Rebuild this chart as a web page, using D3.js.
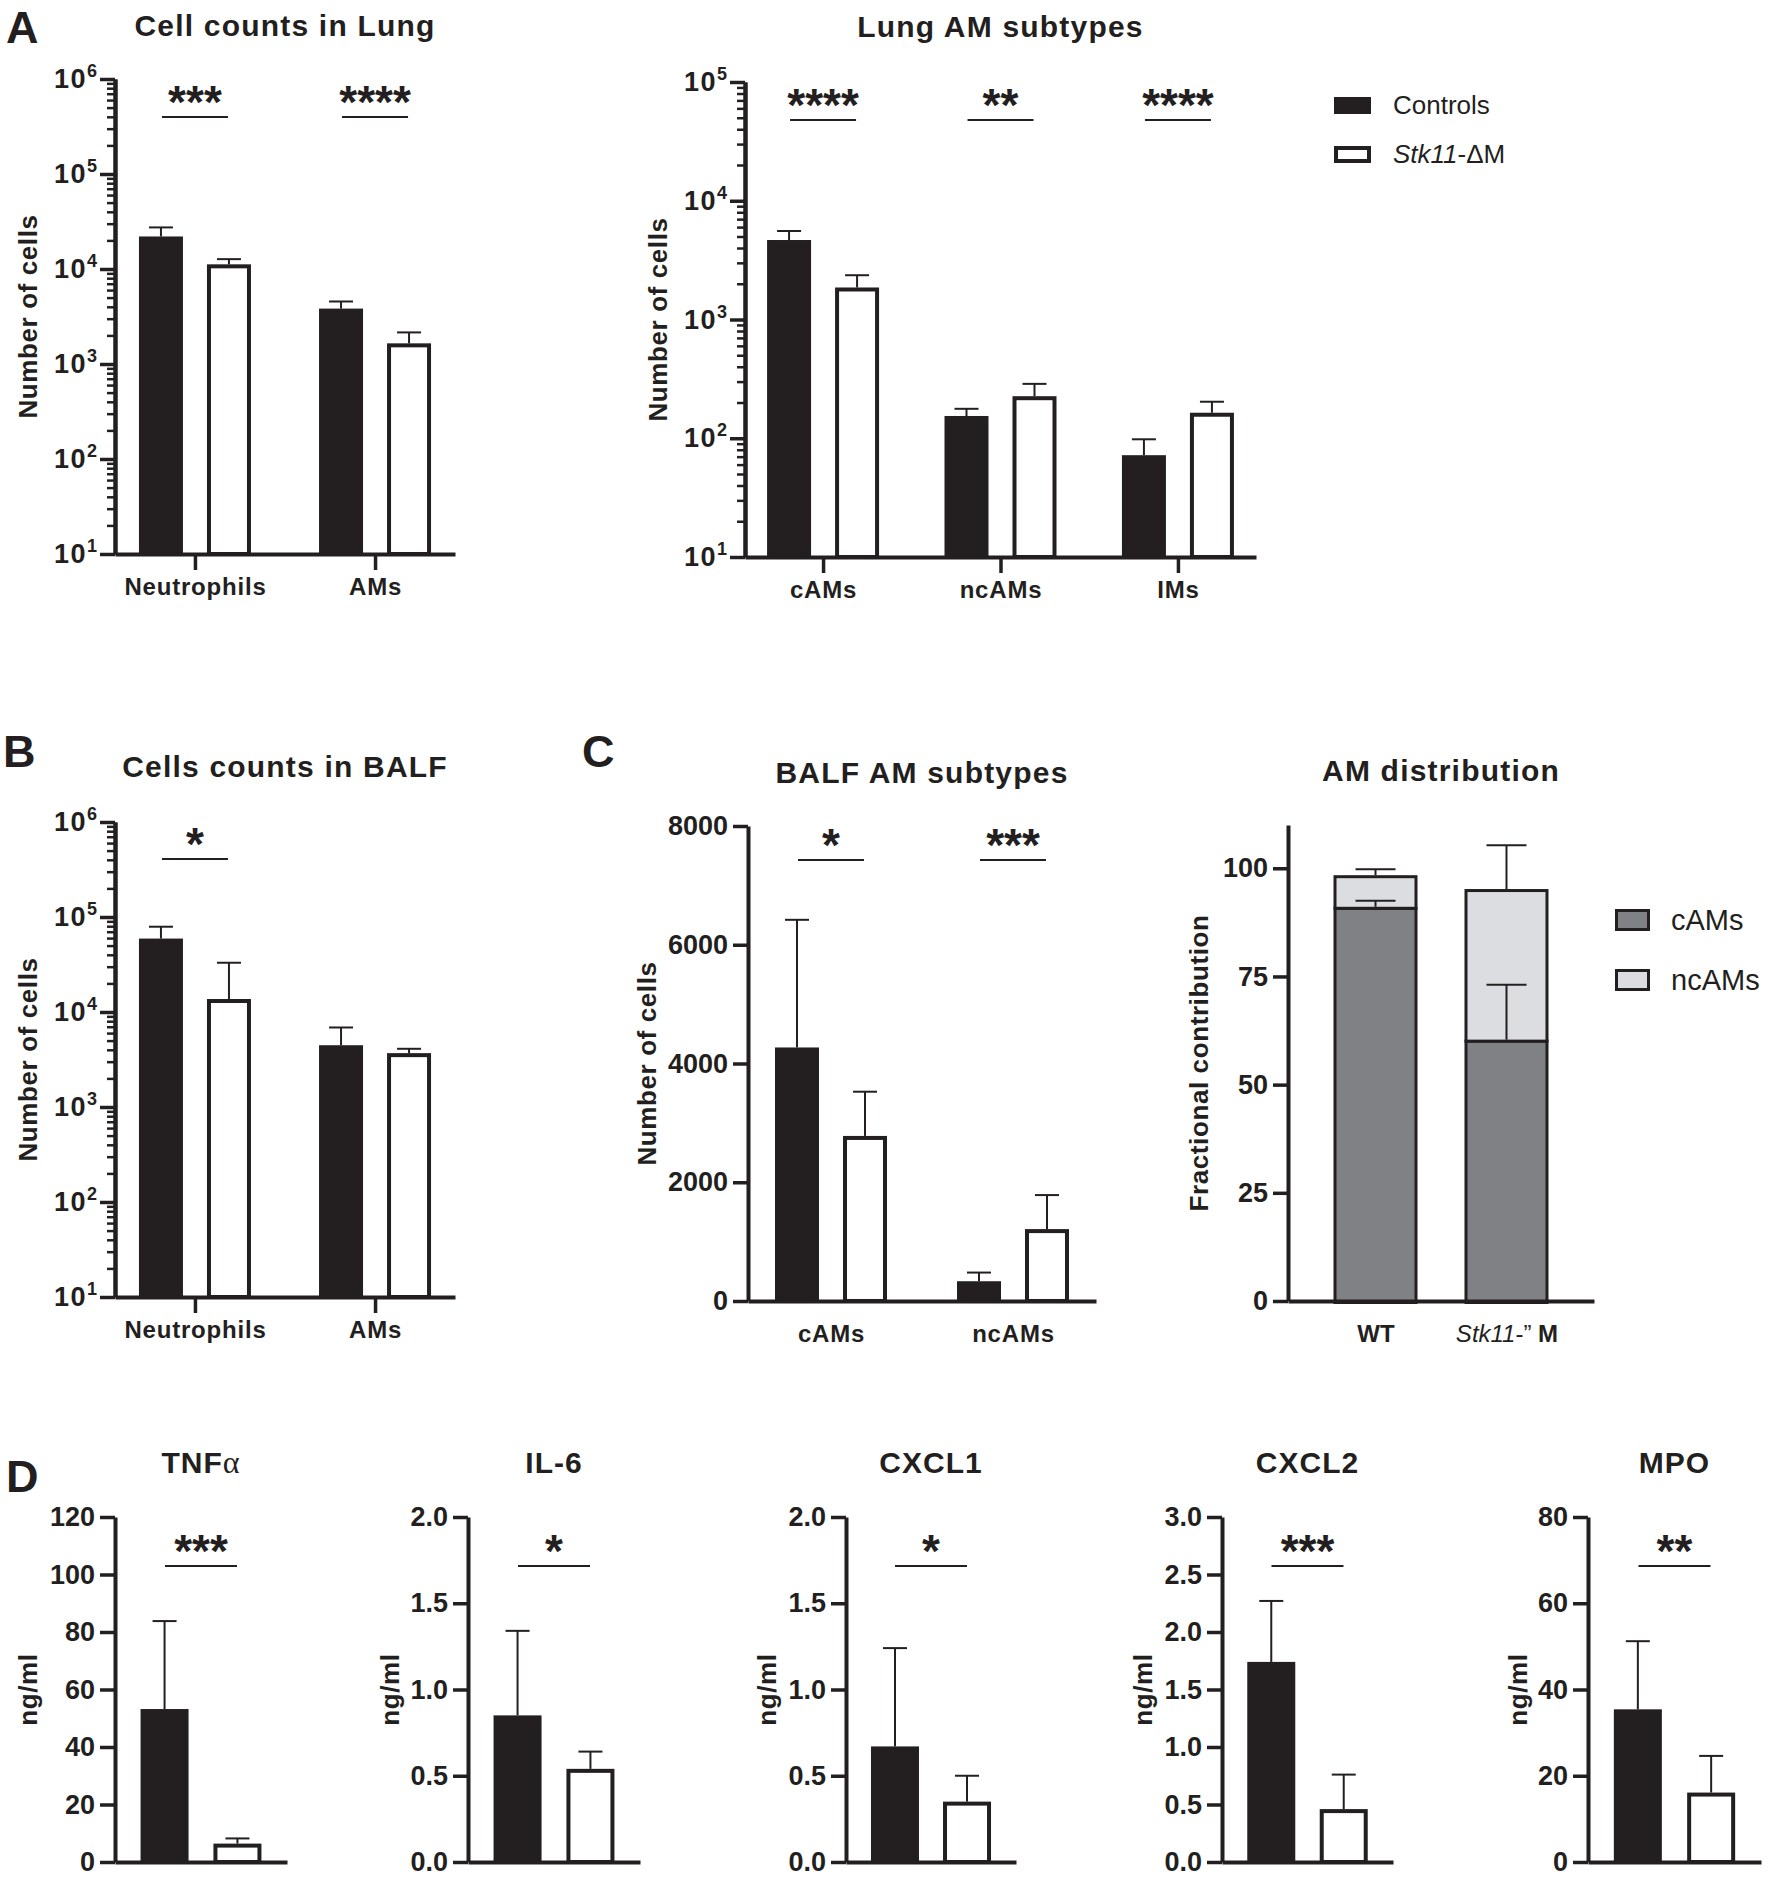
<!DOCTYPE html>
<meta charset="utf-8">
<style>
    body {margin: 0; background: #fff; font-family: "Liberation Sans", Arial, sans-serif;}
</style>
<svg width="1776" height="1878"></svg>
<script src="https://d3js.org/d3.v7.min.js"></script>
<script>
  /**
   * ----------------------------------------------------------------------------------------------
   * data (mean and SD)
   * ----------------------------------------------------------------------------------------------
   */
  const groups = ["Controls", "Stk11-ΔM"];

  // A - cell counts in lung
  const lungCats   = ["Neutrophils", "AMs"];
  const lungCtrl   = [22000, 3830];
  const lungCtrlSd = [5400, 720];
  const lungStk    = [11200, 1650];
  const lungStkSd  = [1500, 500];
  const lungSig    = ["***", "****"];

  // A - lung AM subtypes
  const amCats   = ["cAMs", "ncAMs", "IMs"];
  const amCtrl   = [4670, 154, 72];
  const amCtrlSd = [890, 23, 26];
  const amStk    = [1860, 226, 164];
  const amStkSd  = [500, 61, 39];
  const amSig    = ["****", "**", "****"];

  // B - cells counts in BALF
  const balfCats   = ["Neutrophils", "AMs"];
  const balfCtrl   = [59300, 4470];
  const balfCtrlSd = [19700, 2400];
  const balfStk    = [13700, 3690];
  const balfStkSd  = [19300, 410];
  const balfSig    = ["*", ""];

  // C - BALF AM subtypes
  const subCats   = ["cAMs", "ncAMs"];
  const subCtrl   = [4270, 333];
  const subCtrlSd = [2150, 146];
  const subStk    = [2780, 1211];
  const subStkSd  = [745, 573];
  const subSig    = ["*", "***"];
  const subTicks  = [0, 2000, 4000, 6000, 8000];

  // C - AM distribution (stacked %)
  const distCats  = ["WT", "Stk11"];
  const distKeys  = ["cAMs", "ncAMs"];
  const distCam   = [91.1, 60.4];
  const distCamSd = [1.4, 12.7];
  const distNcam  = [7.3, 34.8];
  const distNcamSd = [1.4, 10.1];
  const distTicks = [0, 25, 50, 75, 100];

  // D - cytokines
  const cytoNames  = ["TNFα", "IL-6", "CXCL1", "CXCL2", "MPO"];
  const cytoCtrl   = [53.2, 0.85, 0.67, 1.74, 35.4];
  const cytoCtrlSd = [30.6, 0.49, 0.57, 0.53, 15.8];
  const cytoStk    = [6.4, 0.54, 0.35, 0.46, 16.1];
  const cytoStkSd  = [1.8, 0.10, 0.15, 0.30, 8.5];
  const cytoMax    = [120, 2, 2, 3, 80];
  const cytoStep   = [20, 0.5, 0.5, 0.5, 20];
  const cytoFmt    = ["d", ".1f", ".1f", ".1f", "d"];
  const cytoSig    = ["***", "*", "*", "***", "**"];

  /**
   *-----------------------------------------------------------------------------------------------
   * helpers
   *-----------------------------------------------------------------------------------------------
   **/
  const ink = "#231f20";
  const camGrey = "#808185";
  const ncamGrey = "#dcdde0";
  const svg = d3.select("svg");

  function styleAxis(g, fs) {
    g.attr("font-family", null).attr("font-size", null).attr("color", ink);
    g.select(".domain").attr("stroke-width", 4);
    g.selectAll(".tick line").attr("stroke-width", 3.5);
    g.selectAll(".tick text").attr("font-size", fs || 27).attr("font-weight", "bold");
  }

  function yAxisLinear(g, y, x0, ticks, fmt) {
    g.append("g").attr("transform", "translate(" + x0 + ",0)")
      .call(d3.axisLeft(y).tickValues(ticks).tickSize(15).tickSizeOuter(0).tickPadding(5)
        .tickFormat(d3.format(fmt || "d")))
      .call(styleAxis);
  }

  function yAxisLog(g, y, x0) {
    var dom = y.domain();
    var majors = d3.range(Math.log10(dom[0]), Math.log10(dom[1]) + 1).map(e => Math.pow(10, e));
    var minors = [];
    majors.slice(0, -1).forEach(m => d3.range(2, 10).forEach(k => minors.push(m * k)));
    g.append("g").attr("transform", "translate(" + x0 + ",0)")
      .call(d3.axisLeft(y).tickValues(minors).tickSize(8).tickSizeOuter(0).tickFormat(""))
      .call(styleAxis)
      .selectAll(".tick line").attr("stroke-width", 2.5);
    var major = g.append("g").attr("transform", "translate(" + x0 + ",0)")
      .call(d3.axisLeft(y).tickValues(majors).tickSize(15).tickSizeOuter(0).tickPadding(3))
      .call(styleAxis);
    major.selectAll(".tick text").text("").each(function(d) {
      var t = d3.select(this);
      t.append("tspan").attr("font-size", 27).attr("letter-spacing", 1.5).text("10");
      t.append("tspan").attr("dy", -11).attr("font-size", 18).text(Math.round(Math.log10(d)));
    });
  }

  function title(g, x, y, txt) {
    g.append("text").attr("x", x).attr("y", y).attr("text-anchor", "middle")
      .attr("font-size", 30).attr("font-weight", "bold").attr("letter-spacing", 1.2)
      .attr("fill", ink).text(txt);
  }

  function yLabel(g, x, yMid, txt) {
    g.append("text").attr("transform", "translate(" + x + "," + yMid + ") rotate(-90)")
      .attr("text-anchor", "middle").attr("dy", "0.35em")
      .attr("font-size", 26).attr("font-weight", "bold").attr("letter-spacing", 0.6)
      .attr("fill", ink).text(txt);
  }

  function sigMark(g, cx, y, half, s) {
    g.append("line").attr("x1", cx - half).attr("x2", cx + half).attr("y1", y).attr("y2", y)
      .attr("stroke", ink).attr("stroke-width", 2);
    g.append("text").attr("x", cx).attr("y", y + 1).attr("text-anchor", "middle")
      .attr("font-size", 46).attr("font-weight", "bold").attr("fill", ink).text(s);
  }

  function errBar(g, cx, yFrom, yTo, half) {
    g.append("line").attr("x1", cx).attr("x2", cx).attr("y1", yFrom).attr("y2", yTo)
      .attr("stroke", ink).attr("stroke-width", 2);
    g.append("line").attr("x1", cx - half).attr("x2", cx + half).attr("y1", yTo).attr("y2", yTo)
      .attr("stroke", ink).attr("stroke-width", 2);
  }

  /**
   * ----------------------------------------------------------------------------------------------
   * grouped bars (panels A, B, C left)
   * ----------------------------------------------------------------------------------------------
   */
  function groupedPanel(p) {
    var g = svg.append("g");
    var x = d3.scalePoint().domain(p.cats).range([p.x0, p.x1]).padding(p.pad);
    var xi = d3.scaleBand().domain(groups).range([-56, 56]).paddingInner(0.353);
    var y = p.log
      ? d3.scaleLog().domain([10, p.max]).range([p.yBot, p.yTop])
      : d3.scaleLinear().domain([0, p.max]).range([p.yBot, p.yTop]);

    var rows = p.cats.flatMap((c, i) => [
      {cat: c, grp: groups[0], v: p.ctrl[i], sd: p.ctrlSd[i]},
      {cat: c, grp: groups[1], v: p.stk[i], sd: p.stkSd[i]}
    ]);

    rows.forEach(d => {
      var cx = x(d.cat) + xi(d.grp) + xi.bandwidth() / 2;
      errBar(g, cx, y(d.v), y(d.v + d.sd), 12);
    });

    g.selectAll("rect.bar").data(rows).join("rect").attr("class", "bar")
      .attr("x", d => x(d.cat) + xi(d.grp) + 2)
      .attr("width", xi.bandwidth() - 4)
      .attr("y", d => y(d.v) + 2)
      .attr("height", d => p.yBot - y(d.v) - 2)
      .attr("fill", d => d.grp === groups[0] ? ink : "#fff")
      .attr("stroke", ink).attr("stroke-width", 4);

    if (p.log) yAxisLog(g, y, p.x0);
    else yAxisLinear(g, y, p.x0, p.ticks);

    g.append("g").attr("transform", "translate(0," + p.yBot + ")")
      .call(d3.axisBottom(x).tickSize(p.catTicks ? 16 : 0).tickSizeOuter(0).tickPadding(p.catTicks ? 8 : 24))
      .call(styleAxis, 24)
      .selectAll(".tick text").attr("letter-spacing", 0.8);

    p.cats.forEach((c, i) => { if (p.sig[i]) sigMark(g, x(c), p.sigY, 33, p.sig[i]); });

    title(g, (p.x0 + p.x1) / 2, p.titleY, p.title);
    yLabel(g, p.ylabelX, (p.yTop + p.yBot) / 2, "Number of cells");
  }

  /**
   * ----------------------------------------------------------------------------------------------
   * stacked bars (panel C right)
   * ----------------------------------------------------------------------------------------------
   */
  function stackPanel() {
    var p = {x0: 1288, x1: 1594, yTop: 825, yBot: 1301};
    var g = svg.append("g");
    var x = d3.scalePoint().domain(distCats).range([p.x0, p.x1]).padding(0.668);
    var y = d3.scaleLinear().domain([0, 110]).range([p.yBot, p.yTop]);
    var colour = d3.scaleOrdinal().domain(distKeys).range([camGrey, ncamGrey]);
    var table = distCats.map((c, i) => ({cat: c, cAMs: distCam[i], ncAMs: distNcam[i],
      sd: {cAMs: distCamSd[i], ncAMs: distNcamSd[i]}}));
    var series = d3.stack().keys(distKeys)(table);
    var bw = 84;

    series.forEach(s => {
      s.forEach(d => {
        errBar(g, x(d.data.cat), y(d[1]), y(d[1] + d.data.sd[s.key]), 20);
      });
    });
    series.forEach(s => {
      g.selectAll(null).data(s).join("rect")
        .attr("x", d => x(d.data.cat) - bw / 2 + 1.5)
        .attr("width", bw - 3)
        .attr("y", d => y(d[1]) + 1.5)
        .attr("height", d => y(d[0]) - y(d[1]))
        .attr("fill", colour(s.key))
        .attr("stroke", ink).attr("stroke-width", 3);
    });
    // cAMs error bars sit inside the light segment, draw them again on top
    series[0].forEach(d => errBar(g, x(d.data.cat), y(d[1]), y(d[1] + d.data.sd.cAMs), 20));

    yAxisLinear(g, y, p.x0, distTicks);
    var xa = g.append("g").attr("transform", "translate(0," + p.yBot + ")")
      .call(d3.axisBottom(x).tickSize(0).tickSizeOuter(0).tickPadding(24))
      .call(styleAxis, 24);
    xa.selectAll(".tick text").filter(d => d === "Stk11").text("").each(function() {
      var t = d3.select(this);
      t.append("tspan").attr("font-style", "italic").attr("font-weight", "normal").text("Stk11");
      t.append("tspan").attr("font-weight", "normal").text("-”");
      t.append("tspan").text(" M");
    });

    title(g, (p.x0 + p.x1) / 2, 781, "AM distribution");
    yLabel(g, 1199, (p.yTop + p.yBot) / 2, "Fractional contribution");

    // legend
    var leg = g.selectAll("g.leg").data(distKeys).join("g")
      .attr("transform", (d, i) => "translate(1615," + (909 + i * 60) + ")");
    leg.append("rect").attr("x", 1.5).attr("y", 1.5).attr("width", 32).attr("height", 19)
      .attr("fill", d => colour(d)).attr("stroke", ink).attr("stroke-width", 3);
    leg.append("text").attr("x", 56).attr("y", 11).attr("dy", "0.36em")
      .attr("font-size", 29).attr("fill", ink).text(d => d);
  }

  /**
   * ----------------------------------------------------------------------------------------------
   * two-bar panels (D)
   * ----------------------------------------------------------------------------------------------
   */
  const dX0 = [115, 468, 846, 1222, 1588];
  const dX1 = [287, 640, 1016, 1393, 1761];
  const dLabX = [28, 390, 767, 1143, 1518];

  function cytoPanel(i) {
    var p = {x0: dX0[i], x1: dX1[i], yTop: 1517, yBot: 1862};
    var g = svg.append("g");
    var x = d3.scalePoint().domain(groups).range([p.x0, p.x1]).padding(0.68);
    var y = d3.scaleLinear().domain([0, cytoMax[i]]).range([p.yBot, p.yTop]);
    var rows = [
      {grp: groups[0], v: cytoCtrl[i], sd: cytoCtrlSd[i]},
      {grp: groups[1], v: cytoStk[i], sd: cytoStkSd[i]}
    ];
    var bw = 48;
    rows.forEach(d => errBar(g, x(d.grp), y(d.v), y(d.v + d.sd), 12));
    g.selectAll(null).data(rows).join("rect")
      .attr("x", d => x(d.grp) - bw / 2 + 2)
      .attr("width", bw - 4)
      .attr("y", d => y(d.v) + 2)
      .attr("height", d => p.yBot - y(d.v) - 2)
      .attr("fill", d => d.grp === groups[0] ? ink : "#fff")
      .attr("stroke", ink).attr("stroke-width", 4);

    yAxisLinear(g, y, p.x0, d3.range(0, cytoMax[i] + cytoStep[i] / 2, cytoStep[i]), cytoFmt[i]);
    g.append("g").attr("transform", "translate(0," + p.yBot + ")")
      .call(d3.axisBottom(x).tickSize(0).tickSizeOuter(0).tickFormat(""))
      .call(styleAxis);

    sigMark(g, (x(groups[0]) + x(groups[1])) / 2, 1566, 36, cytoSig[i]);

    var t = g.append("text").attr("x", (p.x0 + p.x1) / 2).attr("y", 1473).attr("text-anchor", "middle")
      .attr("font-size", 30).attr("font-weight", "bold").attr("letter-spacing", 1).attr("fill", ink);
    if (cytoNames[i] === "TNFα") {
      t.append("tspan").text("TNF");
      t.append("tspan").attr("font-family", "Liberation Serif, serif").attr("font-weight", "normal")
        .attr("font-size", 32).text("α");
    } else {
      t.text(cytoNames[i]);
    }
    yLabel(g, dLabX[i], (p.yTop + p.yBot) / 2, "ng/ml");
  }

  /**
   * ----------------------------------------------------------------------------------------------
   * run
   * ----------------------------------------------------------------------------------------------
   */
  groupedPanel({cats: lungCats, ctrl: lungCtrl, ctrlSd: lungCtrlSd, stk: lungStk, stkSd: lungStkSd,
    sig: lungSig, log: true, max: 1e6, x0: 115, x1: 455, yTop: 79, yBot: 554, pad: 0.444,
    catTicks: true, sigY: 117, title: "Cell counts in Lung", titleY: 36, ylabelX: 28});

  groupedPanel({cats: amCats, ctrl: amCtrl, ctrlSd: amCtrlSd, stk: amStk, stkSd: amStkSd,
    sig: amSig, log: true, max: 1e5, x0: 745, x1: 1256, yTop: 82, yBot: 557, pad: 0.44,
    catTicks: true, sigY: 120, title: "Lung AM subtypes", titleY: 37, ylabelX: 658});

  groupedPanel({cats: balfCats, ctrl: balfCtrl, ctrlSd: balfCtrlSd, stk: balfStk, stkSd: balfStkSd,
    sig: balfSig, log: true, max: 1e6, x0: 115, x1: 455, yTop: 822, yBot: 1297, pad: 0.444,
    catTicks: true, sigY: 859, title: "Cells counts in BALF", titleY: 777, ylabelX: 28});

  groupedPanel({cats: subCats, ctrl: subCtrl, ctrlSd: subCtrlSd, stk: subStk, stkSd: subStkSd,
    sig: subSig, log: false, max: 8000, ticks: subTicks, x0: 748, x1: 1096, yTop: 826, yBot: 1301,
    pad: 0.456, catTicks: false, sigY: 860, title: "BALF AM subtypes", titleY: 783, ylabelX: 647});

  stackPanel();
  cytoNames.forEach((n, i) => cytoPanel(i));

  // legend for controls / Stk11
  var legA = svg.append("g").selectAll("g").data(groups).join("g")
    .attr("transform", (d, i) => "translate(1334," + (97 + i * 49) + ")");
  legA.append("rect").attr("x", 2).attr("y", 2).attr("width", 33).attr("height", 13)
    .attr("fill", (d, i) => i ? "#fff" : ink).attr("stroke", ink).attr("stroke-width", 4);
  legA.append("text").attr("x", 59).attr("y", 8).attr("dy", "0.36em")
    .attr("font-size", 26).attr("fill", ink)
    .each(function(d, i) {
      var t = d3.select(this);
      if (i === 0) t.text(d);
      else {
        t.append("tspan").attr("font-style", "italic").text("Stk11");
        t.append("tspan").text("-ΔM");
      }
    });

  // panel letters
  svg.selectAll("text.letter").data([["A", 6, 43], ["B", 3, 767], ["C", 582, 767], ["D", 6, 1492]])
    .join("text").attr("class", "letter")
    .attr("x", d => d[1]).attr("y", d => d[2])
    .attr("font-size", 45).attr("font-weight", "bold").attr("fill", ink)
    .text(d => d[0]);
</script>
